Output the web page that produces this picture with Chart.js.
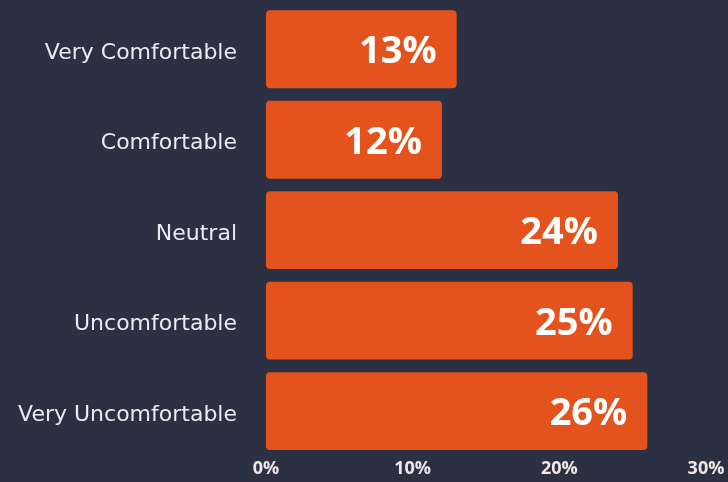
<!DOCTYPE html>
<html>
<head>
<meta charset="utf-8">
<script src="https://cdn.jsdelivr.net/npm/chart.js@4/dist/chart.umd.min.js"></script>
<style>
html,body{margin:0;padding:0;background:#2b3142;}
#wrap{width:728px;height:482px;position:relative;}
</style>
</head>
<body>
<div id="wrap"><canvas id="c" width="728" height="482"></canvas></div>
<script>
const categories = ["Very Comfortable","Comfortable","Neutral","Uncomfortable","Very Uncomfortable"];
const values = [13,12,24,25,26];
const tickValues = [0,10,20,30];

const valueLabels = {
  id:'valueLabels',
  afterDatasetsDraw(chart){
    const ctx = chart.ctx;
    const meta = chart.getDatasetMeta(0);
    ctx.save();
    ctx.fillStyle = '#ffffff';
    ctx.font = 'bold 38px "Open Sans", sans-serif';
    ctx.textAlign = 'right';
    ctx.textBaseline = 'middle';
    meta.data.forEach((bar,i)=>{
      ctx.fillText(values[i] + '%', bar.x - 20, bar.y + 3);
    });
    ctx.restore();
  }
};

new Chart(document.getElementById('c'), {
  type:'bar',
  data:{
    labels:categories,
    datasets:[{
      data:values,
      backgroundColor:'#e4531d',
      borderRadius:4,
      borderSkipped:false,
      categoryPercentage:0.86,
      barPercentage:1.0
    }]
  },
  options:{
    indexAxis:'y',
    responsive:false,
    animation:false,
    layout:{autoPadding:false,padding:{top:4,right:22,bottom:0,left:0}},
    plugins:{legend:{display:false},tooltip:{enabled:false}},
    scales:{
      x:{
        min:0,max:30,
        afterBuildTicks(axis){ axis.ticks = tickValues.map(v=>({value:v})); },
        afterFit(axis){ axis.paddingLeft = 0; axis.paddingRight = 0; },
        grid:{display:false,drawTicks:false},
        border:{display:false},
        ticks:{
          color:'#f2e6e6',
          font:{family:'"Open Sans", sans-serif',size:18,weight:'bold'},
          padding:2,
          maxRotation:0,
          autoSkip:false,
          callback:v=>v+'%'
        }
      },
      y:{
        grid:{display:false,drawTicks:false},
        border:{display:false},
        afterFit(axis){ axis.width = 266; axis.paddingTop = 0; axis.paddingBottom = 0; },
        ticks:{
          color:'#e9ebf2',
          font:{family:'"DejaVu Sans", sans-serif',size:22},
          padding:29,
          labelOffset:4
        }
      }
    }
  },
  plugins:[valueLabels]
});
</script>
</body>
</html>
